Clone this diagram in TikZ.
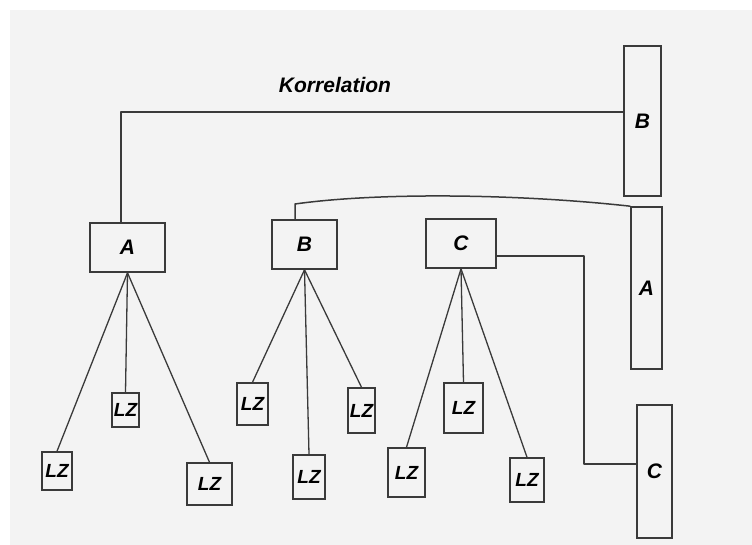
\documentclass[tikz,border=0pt]{standalone}
\usepackage{fontspec}
\setmainfont{Liberation Sans}
\usetikzlibrary{calc}
\definecolor{ink}{HTML}{3A3A3A}
\definecolor{paper}{HTML}{F3F3F3}
\begin{document}
\begin{tikzpicture}[x=1pt,y=-1pt,
  box/.style={draw=ink, line width=1.6pt, inner sep=0pt, text=black,
    font=\bfseries\itshape\fontsize{21}{21}\selectfont},
  lz/.style={box, line width=1.5pt, font=\bfseries\itshape\fontsize{19}{19}\selectfont},
  wire/.style={draw=ink, line width=1.5pt, line join=round},
  twig/.style={draw=ink, line width=1.3pt}]
\useasboundingbox (0,0) rectangle (752,545);
\fill[white] (0,0) rectangle (752,545);
\fill[paper] (10,10) rectangle (752,545);

% title
\node[font=\bfseries\itshape\fontsize{21}{21}\selectfont] (kt) at (335,85) {Korrelation};

% main boxes
\node[box, minimum width=75, minimum height=49] (A) at (127.5,247.5) {A};
\node[box, minimum width=65, minimum height=49] (B) at (304.5,244.5) {B};
\node[box, minimum width=70, minimum height=49] (C) at (461,243.5) {C};

% tall right boxes
\node[box, minimum width=37, minimum height=150] (RB) at (642.5,121) {B};
\node[box, minimum width=31, minimum height=162] (RA) at (646.5,288) {A};
\node[box, minimum width=35, minimum height=133] (RC) at (654.5,471.5) {C};

% leaf boxes
\node[lz, minimum width=30, minimum height=38] (l1) at (57,471) {LZ};
\node[lz, minimum width=27, minimum height=34] (l2) at (125.5,410) {LZ};
\node[lz, minimum width=45, minimum height=42] (l3) at (209.5,484) {LZ};
\node[lz, minimum width=31, minimum height=42] (l4) at (252.5,404) {LZ};
\node[lz, minimum width=32, minimum height=44] (l5) at (309,477) {LZ};
\node[lz, minimum width=27, minimum height=45] (l6) at (361.5,410.5) {LZ};
\node[lz, minimum width=37, minimum height=49] (l7) at (406.5,472.5) {LZ};
\node[lz, minimum width=39, minimum height=50] (l8) at (463.5,408) {LZ};
\node[lz, minimum width=34, minimum height=44] (l9) at (527,480) {LZ};

% correlation connectors
\coordinate (k1) at (121,112);
\draw[wire] (A.north -| k1) -- (k1) -- (k1 -| RB.west);
\coordinate (b1) at (295,204);
\draw[wire] (B.north -| b1) -- (b1) .. controls (380,192) and (520,194) .. (RA.north west);
\coordinate (c1) at (584,256);
\coordinate (c2) at (584,464);
\draw[wire] (C.east |- c1) -- (c1) -- (c2) -- (c2 -| RC.west);

% tree edges
\foreach \p/\c in {A/l1, A/l2, A/l3, B/l4, B/l5, B/l6, C/l7, C/l8, C/l9}
  \draw[twig] (\p.south) -- (\c.north);
\end{tikzpicture}
\end{document}
